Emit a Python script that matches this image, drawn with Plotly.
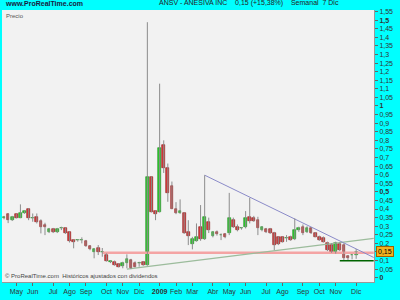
import pandas as pd
import plotly.graph_objects as go

# ---------------- data ----------------
week_start = "2008-04-14"
n_weeks = 87
opens = [0.345, 0.369, 0.335, 0.369, 0.349, 0.378, 0.403, 0.347, 0.355, 0.330,
         0.306, 0.264, 0.283, 0.264, 0.287, 0.287, 0.267, 0.219, 0.219, 0.219,
         0.215, 0.186, 0.151, 0.171, 0.149, 0.132, 0.090, 0.093, 0.078, 0.070,
         0.084, 0.103, 0.087, 0.085, 0.090, 0.074, 0.587, 0.388, 0.384, 0.775,
         0.636, 0.535, 0.403, 0.374, 0.378, 0.267, 0.196, 0.215, 0.293, 0.223,
         0.326, 0.244, 0.267, 0.248, 0.252, 0.258, 0.335, 0.297, 0.287, 0.297,
         0.355, 0.349, 0.335, 0.277, 0.283, 0.283, 0.258, 0.235, 0.235, 0.229,
         0.238, 0.223, 0.277, 0.297, 0.265, 0.287, 0.258, 0.238, 0.233, 0.200,
         0.190, 0.148, 0.196, 0.190, 0.126, 0.130, 0.130]
highs = [0.360, 0.376, 0.360, 0.372, 0.427, 0.392, 0.405, 0.374, 0.374, 0.340,
         0.320, 0.290, 0.290, 0.290, 0.297, 0.292, 0.270, 0.223, 0.225, 0.235,
         0.220, 0.190, 0.171, 0.190, 0.173, 0.142, 0.100, 0.100, 0.085, 0.093,
         0.136, 0.110, 0.095, 0.093, 0.095, 1.488, 0.590, 0.390, 1.130, 0.800,
         0.665, 0.560, 0.440, 0.456, 0.380, 0.335, 0.238, 0.316, 0.423, 0.597,
         0.350, 0.270, 0.275, 0.258, 0.260, 0.494, 0.350, 0.310, 0.295, 0.388,
         0.465, 0.360, 0.355, 0.300, 0.290, 0.290, 0.267, 0.240, 0.240, 0.248,
         0.245, 0.345, 0.297, 0.310, 0.300, 0.295, 0.265, 0.245, 0.240, 0.210,
         0.200, 0.210, 0.205, 0.200, 0.132, 0.135, 0.167]
lows = [0.340, 0.318, 0.330, 0.345, 0.347, 0.372, 0.335, 0.326, 0.316, 0.258,
        0.248, 0.260, 0.260, 0.260, 0.277, 0.255, 0.205, 0.171, 0.210, 0.200,
        0.180, 0.160, 0.113, 0.132, 0.122, 0.094, 0.085, 0.070, 0.060, 0.055,
        0.055, 0.050, 0.060, 0.064, 0.070, 0.070, 0.380, 0.335, 0.380, 0.610,
        0.442, 0.400, 0.370, 0.372, 0.255, 0.190, 0.165, 0.210, 0.215, 0.220,
        0.260, 0.235, 0.245, 0.219, 0.230, 0.248, 0.290, 0.270, 0.280, 0.287,
        0.316, 0.325, 0.248, 0.270, 0.260, 0.255, 0.161, 0.190, 0.205, 0.209,
        0.215, 0.219, 0.267, 0.248, 0.260, 0.255, 0.235, 0.215, 0.205, 0.155,
        0.145, 0.140, 0.155, 0.103, 0.103, 0.107, 0.110]
closes = [0.355, 0.335, 0.355, 0.349, 0.374, 0.388, 0.349, 0.349, 0.326, 0.297,
          0.297, 0.283, 0.264, 0.283, 0.288, 0.258, 0.213, 0.209, 0.220, 0.220,
          0.186, 0.167, 0.167, 0.148, 0.150, 0.099, 0.099, 0.074, 0.064, 0.084,
          0.107, 0.055, 0.064, 0.086, 0.075, 0.587, 0.384, 0.369, 0.756, 0.636,
          0.494, 0.403, 0.374, 0.390, 0.262, 0.244, 0.225, 0.235, 0.223, 0.355,
          0.277, 0.264, 0.254, 0.249, 0.235, 0.345, 0.297, 0.277, 0.288, 0.345,
          0.330, 0.330, 0.287, 0.297, 0.267, 0.262, 0.190, 0.196, 0.209, 0.230,
          0.219, 0.277, 0.291, 0.262, 0.290, 0.258, 0.238, 0.219, 0.209, 0.161,
          0.151, 0.200, 0.161, 0.113, 0.116, 0.130, 0.150]

# drawn lines
resist_dates = ["2009-03-23", "2010-01-06"]
resist_prices = [0.597, 0.118]
support_dates = ["2008-11-10", "2010-01-06"]
support_prices = [0.050, 0.229]
pink_dates = ["2008-09-29", "2010-01-06"]
pink_prices = [0.145, 0.145]
low_dates = ["2009-11-09", "2010-01-06"]
low_prices = [0.099, 0.099]

month_labels = ["May", "Jun", "Jul", "Ago", "Sep", "Oct", "Nov", "Dic", "<b>2009</b>", "Feb",
                "Mar", "Abr", "May", "Jun", "Jul", "Ago", "Sep", "Oct", "Nov", "Dic"]
last_price = 0.15

# ---------------- build ----------------
dates = pd.date_range(week_start, periods=n_weeks, freq="7D")

wx, wy = [], []
for d, lo, hi in zip(dates, lows, highs):
    wx += [d, d, None]
    wy += [lo, hi, None]

up_x, up_base, up_h = [], [], []
dn_x, dn_base, dn_h = [], [], []
for d, o, c in zip(dates, opens, closes):
    h = max(abs(c - o), 0.0015)
    if c >= o:
        up_x.append(d); up_base.append(min(o, c)); up_h.append(h)
    else:
        dn_x.append(d); dn_base.append(min(o, c)); dn_h.append(h)

bar_w = 4.6 * 86400000

fig = go.Figure()
fig.add_trace(go.Scatter(x=pink_dates, y=pink_prices, mode="lines",
                         line=dict(color="#f4a4a4", width=2.5), hoverinfo="skip"))
fig.add_trace(go.Scatter(x=support_dates, y=support_prices, mode="lines",
                         line=dict(color="#9cbc9c", width=1.3), hoverinfo="skip"))
fig.add_trace(go.Scatter(x=resist_dates, y=resist_prices, mode="lines",
                         line=dict(color="#8a8ac8", width=1), hoverinfo="skip"))
fig.add_trace(go.Scatter(x=low_dates, y=low_prices, mode="lines",
                         line=dict(color="#006400", width=1.5), hoverinfo="skip"))
fig.add_trace(go.Scatter(x=wx, y=wy, mode="lines", connectgaps=False,
                         line=dict(color="#8c8c8c", width=1), hoverinfo="skip"))
fig.add_trace(go.Bar(x=up_x, y=up_h, base=up_base, width=bar_w,
                     marker=dict(color="#2ecc2e", line=dict(color="#1a8a1a", width=0.6))))
fig.add_trace(go.Bar(x=dn_x, y=dn_h, base=dn_base, width=bar_w,
                     marker=dict(color="#d83c3c", line=dict(color="#8a1010", width=0.6))))

# month ticks: first Monday on/after the 1st
months = pd.date_range("2008-05-01", "2009-12-01", freq="MS")
tickvals = []
for m in months:
    d = m
    while d.weekday() != 0:
        d += pd.Timedelta(days=1)
    tickvals.append(d)

yvals = [round(i * 0.05, 2) for i in range(32)]
ytext = []
for v in yvals:
    s = ("%.2f" % v).rstrip("0").rstrip(".").replace(".", ",")
    if abs(v - last_price) < 1e-9:
        s = ""
    elif abs(v * 2 - round(v * 2)) < 1e-9:
        s = "<b>" + s + "</b>"
    ytext.append(s)

FONT = "Liberation Sans, Arial, sans-serif"
fig.update_layout(
    width=400, height=300,
    margin=dict(l=2, r=26, t=10, b=18),
    paper_bgcolor="#00ffff", plot_bgcolor="#f2f2f2",
    showlegend=False, barmode="overlay", bargap=0,
    font=dict(family=FONT, size=7, color="#333"),
    xaxis=dict(type="date", range=["2008-04-10 12:00", "2010-01-06 12:00"],
               tickvals=tickvals, ticktext=month_labels, ticks="outside", ticklen=3,
               tickcolor="#666", showgrid=False, showline=True, linecolor="#999",
               linewidth=1, zeroline=False, tickfont=dict(size=7, color="#333")),
    yaxis=dict(side="right", range=[-0.025, 1.559], tickvals=yvals, ticktext=ytext,
               ticks="outside", ticklen=3, tickcolor="#666", showgrid=False,
               showline=True, linecolor="#999", linewidth=1, zeroline=False,
               tickfont=dict(size=7, color="#333")),
    annotations=[
        dict(x=0.003, y=1.0, xref="paper", yref="paper", xanchor="left", yanchor="bottom",
             text="<b>www.ProRealTime.com</b>", showarrow=False, yshift=1,
             font=dict(size=7, color="#1a1a40")),
        dict(x=0.4167, y=1.0, xref="paper", yref="paper", xanchor="left", yanchor="bottom",
             text="ANSV - ANESIVA INC    0,15 (+15,38%)    Semanal  7 Dic", showarrow=False,
             yshift=1, font=dict(size=7, color="#222")),
        dict(x=0.005, y=1.0, xref="paper", yref="paper", xanchor="left", yanchor="top",
             text="Precio", showarrow=False, yshift=-1, font=dict(size=6, color="#555")),
        dict(x=0.003, y=0.0, xref="paper", yref="paper", xanchor="left", yanchor="bottom",
             text="© ProRealTime.com  Históricos ajustados con dividendos", showarrow=False,
             yshift=1, font=dict(size=6, color="#444")),
        dict(x=1.0, y=last_price, xref="paper", yref="y", xanchor="left", yanchor="middle",
             text="0,15", showarrow=False, xshift=2, bgcolor="#f2b01e",
             bordercolor="#a06000", borderwidth=1, borderpad=1,
             font=dict(size=7, color="#000")),
    ],
)

fig.write_html("out.html")
